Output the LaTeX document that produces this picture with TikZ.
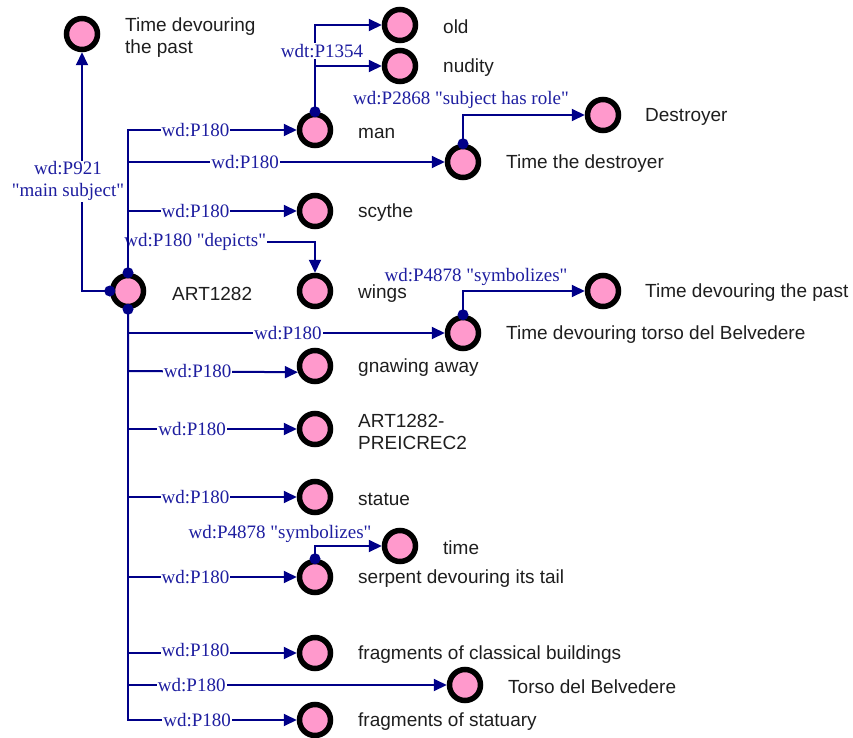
\documentclass[tikz,border=0pt]{standalone}
\usepackage{fontspec}
\setmainfont{Liberation Serif}
\newfontfamily\nodefont{Liberation Sans}
\usetikzlibrary{arrows.meta}
\definecolor{edgecol}{RGB}{0,0,136}
\definecolor{lblcol}{RGB}{30,30,160}
\definecolor{pinkfill}{RGB}{255,153,204}
\definecolor{txtcol}{RGB}{30,30,30}
\newcommand{\qq}[1]{\textquotedbl #1\textquotedbl}
\tikzset{
  ent/.style={circle, draw=black, line width=5.5pt, fill=pinkfill, minimum size=31pt, inner sep=0pt},
  ntext/.style={anchor=west, inner sep=0pt, yshift=-2pt, font=\nodefont\fontsize{19}{22}\selectfont, text=txtcol, align=left},
  edge/.style={draw=edgecol, line width=2pt, -{Triangle[length=13pt,width=12pt]}},
  lbl/.style={font=\fontsize{19}{22}\selectfont, text=lblcol, fill=white, inner sep=1pt, align=center},
  lblnf/.style={font=\fontsize{19}{22}\selectfont, text=lblcol, inner sep=1pt, align=center},
  dot/.style={fill=edgecol}
}
\begin{document}
\begin{tikzpicture}[x=1pt,y=-1pt]
\useasboundingbox (0,0) rectangle (853,738);
% nodes
\node[ent] (tdp1) at (82,34) {};
\node[ent] (old) at (400,25) {};
\node[ent] (nud) at (400,66) {};
\node[ent] (man) at (315,130) {};
\node[ent] (des) at (603,115) {};
\node[ent] (td) at (463,162) {};
\node[ent] (scy) at (315,211) {};
\node[ent] (art) at (128,291) {};
\node[ent] (win) at (315,291) {};
\node[ent] (tdp2) at (603,291) {};
\node[ent] (tdt) at (463,333) {};
\node[ent] (gna) at (315,366) {};
\node[ent] (pre) at (315,429) {};
\node[ent] (sta) at (315,497) {};
\node[ent] (tim) at (400,546) {};
\node[ent] (ser) at (315,577) {};
\node[ent] (fcb) at (315,653) {};
\node[ent] (tor) at (465,685) {};
\node[ent] (fst) at (315,720) {};
% texts
\node[ntext] (t-tdp1) at (125,36) {Time devouring\\the past};
\node[ntext] (t-old) at (443,25) {old};
\node[ntext] (t-nud) at (443,66) {nudity};
\node[ntext] (t-man) at (358,131) {man};
\node[ntext] (t-des) at (645,115) {Destroyer};
\node[ntext] (t-td) at (506,162) {Time the destroyer};
\node[ntext] (t-scy) at (358,211) {scythe};
\node[ntext] (t-art) at (172,292) {ART1282};
\node[ntext] (t-win) at (358,292) {wings};
\node[ntext] (t-tdp2) at (645,291) {Time devouring the past};
\node[ntext] (t-tdt) at (506,333) {Time devouring torso del Belvedere};
\node[ntext] (t-gna) at (358,366) {gnawing away};
\node[ntext] (t-pre) at (358,430) {ART1282-\\PREICREC2};
\node[ntext] (t-sta) at (358,497) {statue};
\node[ntext] (t-tim) at (443,546) {time};
\node[ntext] (t-ser) at (358,577) {serpent devouring its tail};
\node[ntext] (t-fcb) at (358,653) {fragments of classical buildings};
\node[ntext] (t-tor) at (508,685) {Torso del Belvedere};
\node[ntext] (t-fst) at (358,720) {fragments of statuary};
% edges
\path[edge] (art.west) -| node[lbl,pos=0.734,xshift=-14pt,yshift=-2pt]{wd:P921\\\qq{main subject}} (tdp1.south);
\path[edge] (art.north) -- ++(0,-31) -| node[lbl,pos=0.18]{wd:P180 \qq{depicts}} (win.north);
\path[edge] (art.north) -- (art.north |- man) -- node[lbl,pos=0.40]{wd:P180} (man);
\path[edge] (art.north) -- (art.north |- td) -- node[lbl,pos=0.37]{wd:P180} (td);
\path[edge] (art.north) -- (art.north |- scy) -- node[lbl,pos=0.40]{wd:P180} (scy);
\path[edge] (art.south) -- (art.south |- tdt) -- node[lbl,pos=0.505]{wd:P180} (tdt);
\path[edge] (art.south) -- ([yshift=-5pt]art.south |- gna) -- node[lbl,pos=0.41]{wd:P180} (gna.200);
\path[edge] (art.south) -- (art.south |- pre) -- node[lbl,pos=0.38]{wd:P180} (pre);
\path[edge] (art.south) -- (art.south |- sta) -- node[lbl,pos=0.40]{wd:P180} (sta);
\path[edge] (art.south) -- (art.south |- ser) -- node[lbl,pos=0.40]{wd:P180} (ser);
\path[edge] (art.south) -- (art.south |- fcb) -- node[lbl,pos=0.40,yshift=3pt]{wd:P180} (fcb);
\path[edge] (art.south) -- (art.south |- tor) -- node[lbl,pos=0.20]{wd:P180} (tor);
\path[edge] (art.south) -- (art.south |- fst) -- node[lbl,pos=0.41]{wd:P180} (fst);
\path[edge] (man.north) |- (nud);
\path[edge] (man.north) |- node[lbl,pos=0.35,xshift=7pt]{wdt:P1354} (old);
\path[edge] (td.north) |- node[lblnf,pos=0.5,xshift=-2pt,yshift=15pt]{wd:P2868 \qq{subject has role}} (des);
\path[edge] (tdt.north) |- node[lblnf,pos=0.5,xshift=13pt,yshift=14pt]{wd:P4878 \qq{symbolizes}} (tdp2);
\path[edge] (ser.north) |- node[lblnf,pos=0.5,xshift=-35pt,yshift=12pt]{wd:P4878 \qq{symbolizes}} (tim);
% dots
\foreach \p in {art.west,art.north,art.south,man.north,td.north,tdt.north,ser.north}
  \fill[dot] (\p) circle (5.5pt);
\end{tikzpicture}
\end{document}
